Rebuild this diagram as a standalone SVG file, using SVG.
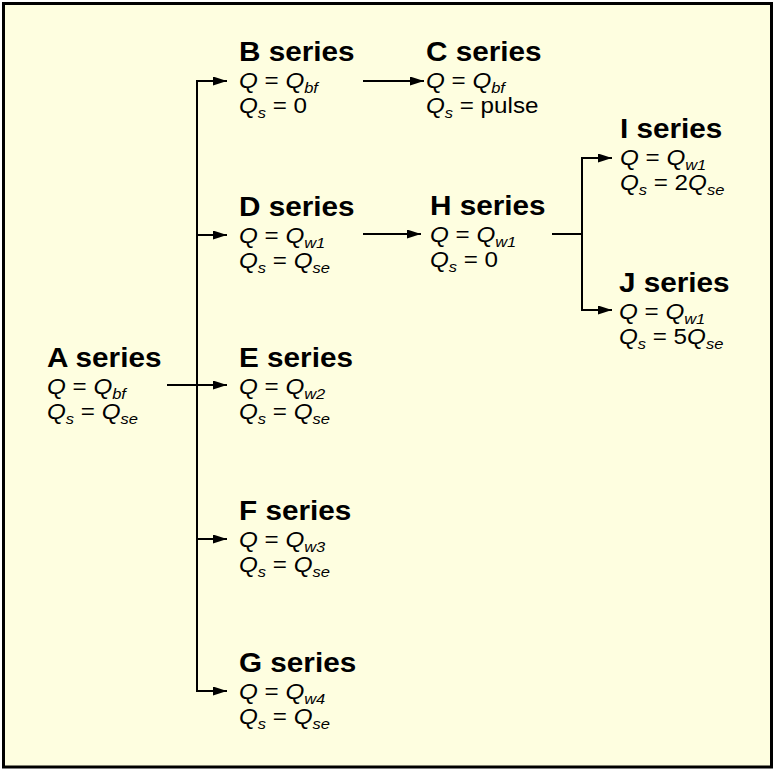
<svg xmlns="http://www.w3.org/2000/svg" width="774" height="771" viewBox="0 0 774 771">
  <defs>
    <marker id="arrow" markerUnits="userSpaceOnUse" markerWidth="14" markerHeight="10" refX="14" refY="4.5" orient="auto">
      <path d="M0,0 L14,4.5 L0,9 Z" fill="#000"/>
    </marker>
  </defs>
  <style>
    text { font-family: "Liberation Sans", Arial, Helvetica, sans-serif; fill: #000; }
    .title { font-size: 27px; font-weight: bold; }
    .eq { font-size: 22px; }
    .i { font-style: italic; }
    .sub { font-size: 15px; font-style: italic; }
    .wire { fill: none; stroke: #000; stroke-width: 2; stroke-linecap: square; }
    .arr { fill: none; stroke: #000; stroke-width: 2; marker-end: url(#arrow); }
  </style>

  <!-- frame -->
  <rect x="3.5" y="3.5" width="768" height="763.5" fill="#FEFEE0" stroke="#000" stroke-width="3"/>

  <!-- connectors -->
  <g id="connectors">
    <path class="wire" d="M168,385 H197"/>
    <path class="wire" d="M197,81 V691"/>
    <path class="arr" d="M196,81 H227"/>
    <path class="arr" d="M196,235 H227"/>
    <path class="arr" d="M196,385 H227"/>
    <path class="arr" d="M196,539 H227"/>
    <path class="arr" d="M196,691 H227"/>
    <path class="arr" d="M363,81 H424"/>
    <path class="arr" d="M363,234 H421"/>
    <path class="wire" d="M553,234 H582"/>
    <path class="wire" d="M582,158 V310"/>
    <path class="arr" d="M581,158 H612"/>
    <path class="arr" d="M581,310 H612"/>
  </g>

  <!-- A series -->
  <g id="nodeA" transform="translate(47,367) scale(1.1,1)">
    <text class="title" x="0" y="0">A series</text>
    <text class="eq" x="0" y="27"><tspan class="i">Q</tspan> = <tspan class="i">Q</tspan><tspan class="sub" dy="5">bf</tspan></text>
    <text class="eq" x="0" y="52"><tspan class="i">Q</tspan><tspan class="sub" dy="5">s</tspan><tspan dy="-5"> = </tspan><tspan class="i">Q</tspan><tspan class="sub" dy="5">se</tspan></text>
  </g>

  <!-- B series -->
  <g id="nodeB" transform="translate(239,61) scale(1.1,1)">
    <text class="title" x="0" y="0">B series</text>
    <text class="eq" x="0" y="27"><tspan class="i">Q</tspan> = <tspan class="i">Q</tspan><tspan class="sub" dy="5">bf</tspan></text>
    <text class="eq" x="0" y="52"><tspan class="i">Q</tspan><tspan class="sub" dy="5">s</tspan><tspan dy="-5"> = 0</tspan></text>
  </g>

  <!-- C series -->
  <g id="nodeC" transform="translate(426,61) scale(1.1,1)">
    <text class="title" x="0" y="0">C series</text>
    <text class="eq" x="0" y="27"><tspan class="i">Q</tspan> = <tspan class="i">Q</tspan><tspan class="sub" dy="5">bf</tspan></text>
    <text class="eq" x="0" y="52"><tspan class="i">Q</tspan><tspan class="sub" dy="5">s</tspan><tspan dy="-5"> = pulse</tspan></text>
  </g>

  <!-- D series -->
  <g id="nodeD" transform="translate(239,216) scale(1.1,1)">
    <text class="title" x="0" y="0">D series</text>
    <text class="eq" x="0" y="27"><tspan class="i">Q</tspan> = <tspan class="i">Q</tspan><tspan class="sub" dy="5">w1</tspan></text>
    <text class="eq" x="0" y="52"><tspan class="i">Q</tspan><tspan class="sub" dy="5">s</tspan><tspan dy="-5"> = </tspan><tspan class="i">Q</tspan><tspan class="sub" dy="5">se</tspan></text>
  </g>

  <!-- H series -->
  <g id="nodeH" transform="translate(430,215) scale(1.1,1)">
    <text class="title" x="0" y="0">H series</text>
    <text class="eq" x="0" y="27"><tspan class="i">Q</tspan> = <tspan class="i">Q</tspan><tspan class="sub" dy="5">w1</tspan></text>
    <text class="eq" x="0" y="52"><tspan class="i">Q</tspan><tspan class="sub" dy="5">s</tspan><tspan dy="-5"> = 0</tspan></text>
  </g>

  <!-- I series -->
  <g id="nodeI" transform="translate(620,138) scale(1.1,1)">
    <text class="title" x="0" y="0">I series</text>
    <text class="eq" x="0" y="27"><tspan class="i">Q</tspan> = <tspan class="i">Q</tspan><tspan class="sub" dy="5">w1</tspan></text>
    <text class="eq" x="0" y="52"><tspan class="i">Q</tspan><tspan class="sub" dy="5">s</tspan><tspan dy="-5"> = 2</tspan><tspan class="i">Q</tspan><tspan class="sub" dy="5">se</tspan></text>
  </g>

  <!-- J series -->
  <g id="nodeJ" transform="translate(619,292) scale(1.1,1)">
    <text class="title" x="0" y="0">J series</text>
    <text class="eq" x="0" y="27"><tspan class="i">Q</tspan> = <tspan class="i">Q</tspan><tspan class="sub" dy="5">w1</tspan></text>
    <text class="eq" x="0" y="52"><tspan class="i">Q</tspan><tspan class="sub" dy="5">s</tspan><tspan dy="-5"> = 5</tspan><tspan class="i">Q</tspan><tspan class="sub" dy="5">se</tspan></text>
  </g>

  <!-- E series -->
  <g id="nodeE" transform="translate(239,367) scale(1.1,1)">
    <text class="title" x="0" y="0">E series</text>
    <text class="eq" x="0" y="27"><tspan class="i">Q</tspan> = <tspan class="i">Q</tspan><tspan class="sub" dy="5">w2</tspan></text>
    <text class="eq" x="0" y="52"><tspan class="i">Q</tspan><tspan class="sub" dy="5">s</tspan><tspan dy="-5"> = </tspan><tspan class="i">Q</tspan><tspan class="sub" dy="5">se</tspan></text>
  </g>

  <!-- F series -->
  <g id="nodeF" transform="translate(239,520) scale(1.1,1)">
    <text class="title" x="0" y="0">F series</text>
    <text class="eq" x="0" y="27"><tspan class="i">Q</tspan> = <tspan class="i">Q</tspan><tspan class="sub" dy="5">w3</tspan></text>
    <text class="eq" x="0" y="52"><tspan class="i">Q</tspan><tspan class="sub" dy="5">s</tspan><tspan dy="-5"> = </tspan><tspan class="i">Q</tspan><tspan class="sub" dy="5">se</tspan></text>
  </g>

  <!-- G series -->
  <g id="nodeG" transform="translate(239,672) scale(1.1,1)">
    <text class="title" x="0" y="0">G series</text>
    <text class="eq" x="0" y="27"><tspan class="i">Q</tspan> = <tspan class="i">Q</tspan><tspan class="sub" dy="5">w4</tspan></text>
    <text class="eq" x="0" y="52"><tspan class="i">Q</tspan><tspan class="sub" dy="5">s</tspan><tspan dy="-5"> = </tspan><tspan class="i">Q</tspan><tspan class="sub" dy="5">se</tspan></text>
  </g>
</svg>
